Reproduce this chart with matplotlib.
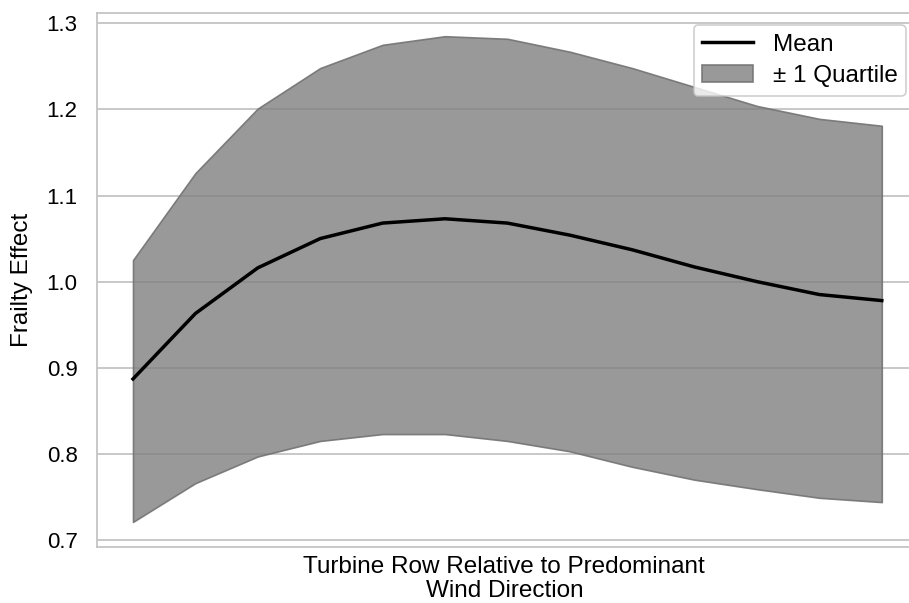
import matplotlib
matplotlib.use("Agg")
import matplotlib.pyplot as plt
import numpy as np

plt.rcParams['font.family'] = ['Liberation Sans', 'DejaVu Sans']

rows = list(range(13))
mean_vals = [0.887, 0.963, 1.016, 1.050, 1.068, 1.073, 1.068, 1.054, 1.037, 1.017, 1.000, 0.985, 0.978]
upper_vals = [1.025, 1.126, 1.201, 1.248, 1.275, 1.285, 1.282, 1.267, 1.248, 1.226, 1.204, 1.189, 1.181]
lower_vals = [0.721, 0.766, 0.797, 0.815, 0.823, 0.823, 0.815, 0.803, 0.785, 0.770, 0.759, 0.749, 0.744]
yticks = [0.7, 0.8, 0.9, 1.0, 1.1, 1.2, 1.3]

W, H = 909, 603
fig = plt.figure(figsize=(W/100, H/100), dpi=100)
ax_w = 1.003 - 97/W
ax = fig.add_axes([97/W, 1-546.7/H, ax_w, (546.7-12.7)/H])

ax.set_axisbelow(True)
ax.yaxis.grid(True, color='#c4c4c4', linewidth=1.3)
ax.xaxis.grid(False)
for s in ax.spines.values():
    s.set_color('#c4c4c4')
    s.set_linewidth(1.3)

ax.fill_between(rows, lower_vals, upper_vals, facecolor=(0.5, 0.5, 0.5, 0.8),
                edgecolor=(0.45, 0.45, 0.45, 0.9), linewidth=1.2, label='± 1 Quartile')
ax.plot(rows, mean_vals, color='black', linewidth=2.5, label='Mean')

ax.set_xlim(-0.577, 12.48)
ax.set_ylim(0.6922, 1.3123)
ax.set_yticks(yticks)
ax.set_yticklabels([f"{v:.1f}" for v in yticks], fontsize=16)
ax.tick_params(axis='y', length=0, pad=14)
ax.set_xticks([])
ax.set_ylabel('Frailty Effect', fontsize=17.5)
ax.yaxis.set_label_coords((33 - 97) / (W * ax_w), 0.5)
ax.set_xlabel('Turbine Row Relative to Predominant\nWind Direction', fontsize=17.5,
              labelpad=7, linespacing=1.1)

handles, labels = ax.get_legend_handles_labels()
order = [labels.index('Mean'), labels.index('± 1 Quartile')]
leg = ax.legend([handles[i] for i in order], [labels[i] for i in order],
                loc='upper right',
                bbox_to_anchor=((906 - 97) / (W * ax_w), (546.7 - 25) / (546.7 - 12.7)),
                fontsize=17.5, frameon=True, fancybox=True, framealpha=0.8,
                edgecolor='#c4c4c4', borderaxespad=0, handlelength=2.1, handletextpad=0.8,
                borderpad=0.35, labelspacing=0.4)
leg.get_frame().set_linewidth(1.2)

fig.savefig('out.png', dpi=100)
